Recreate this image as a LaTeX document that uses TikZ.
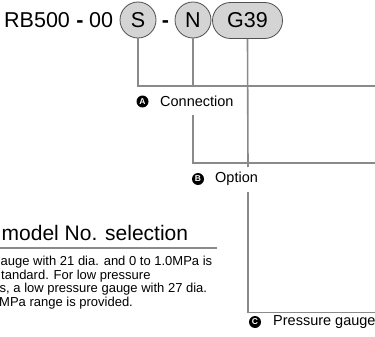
\documentclass[tikz,border=0pt]{standalone}
\usepackage{fontspec}
\setmainfont{Liberation Sans}
\usetikzlibrary{shapes.misc}
\definecolor{leadgray}{RGB}{138,138,138}
\definecolor{codefill}{RGB}{212,212,212}
\definecolor{codeedge}{RGB}{80,80,80}
\begin{document}
\begin{tikzpicture}[x=1pt,y=-1pt,
  big/.style={font=\fontsize{21.5}{24}\selectfont, inner sep=0pt},
  codecircle/.style={circle, draw=codeedge, fill=codefill, line width=0.8pt, minimum size=36pt, inner sep=0pt, font=\fontsize{21.5}{24}\selectfont},
  codepill/.style={rounded rectangle, draw=codeedge, fill=codefill, line width=0.8pt, minimum height=36pt, minimum width=70pt, inner sep=0pt, font=\fontsize{21.5}{24}\selectfont},
  lead/.style={draw=leadgray, line width=1.6pt},
  badge/.style={circle, fill=black, text=white, minimum size=12pt, inner sep=0pt, font=\bfseries\fontsize{8.5}{8.5}\selectfont},
  lbl/.style={font=\fontsize{14.5}{16}\selectfont, inner sep=0pt, anchor=west},
  para/.style={font=\fontsize{13}{13.6}\selectfont, inner sep=0pt, anchor=base west},
]
\useasboundingbox (0,0) rectangle (375,337);
\clip (0,0) rectangle (375,337);
% model code
\node[big, anchor=base west] (rb) at (4,28) {RB500};
\node[big, anchor=base] (d1) at (80,28) {\textbf{-}};
\node[big, anchor=base west] (zz) at (89,28) {00};
\node[codecircle] (S) at (138,20) {S};
\node[big, anchor=base] (d2) at (165.5,28) {\textbf{-}};
\node[codecircle] (N) at (193,20) {N};
\node[codepill] (G) at (247.5,20.5) {G39};
% labels
\node[badge] (ba) at (142.5,101.5) {A};
\node[lbl] (conn) at (160,101.5) {Connection};
\node[badge] (bb) at (198,179) {B};
\node[lbl] (opt) at (215,179) {Option};
\node[badge] (bc) at (255,322) {C};
\node[lbl] (pg) at (273,322) {Pressure gauge};
% right ends
\coordinate (ea) at (378,86);
\coordinate (eb) at (378,163);
\coordinate (ec) at (378,312.5);
\coordinate (nb) at (193,115);
\coordinate (gtop) at (248,167);
\coordinate (gbot) at (248,192);
% leaders
\draw[lead] (S.south) -- (S.south |- ea) -- (ea);
\draw[lead] (N.south) -- (N.south |- ea);
\draw[lead] (nb) -- (nb |- eb) -- (eb);
\draw[lead] (G.south) -- (gtop);
\draw[lead] (gbot) -- (gbot |- ec) -- (ec);
% heading and text
\node[font=\fontsize{21}{24}\selectfont, inner sep=0pt, anchor=base west] (hd) at (1.5,240) {model No. selection};
\coordinate (r0) at (0,248);
\coordinate (r1) at (217,248);
\draw[lead] (r0) -- (r1);
\node[para] (p1) at (0.5,265.5) {auge with 21 dia. and 0 to 1.0MPa is};
\node[para] (p2) at (1,279) {tandard. For low pressure};
\node[para] (p3) at (-0.5,292.5) {s, a low pressure gauge with 27 dia.};
\node[para] (p4) at (-1,306) {MPa range is provided.};
\end{tikzpicture}
\end{document}
